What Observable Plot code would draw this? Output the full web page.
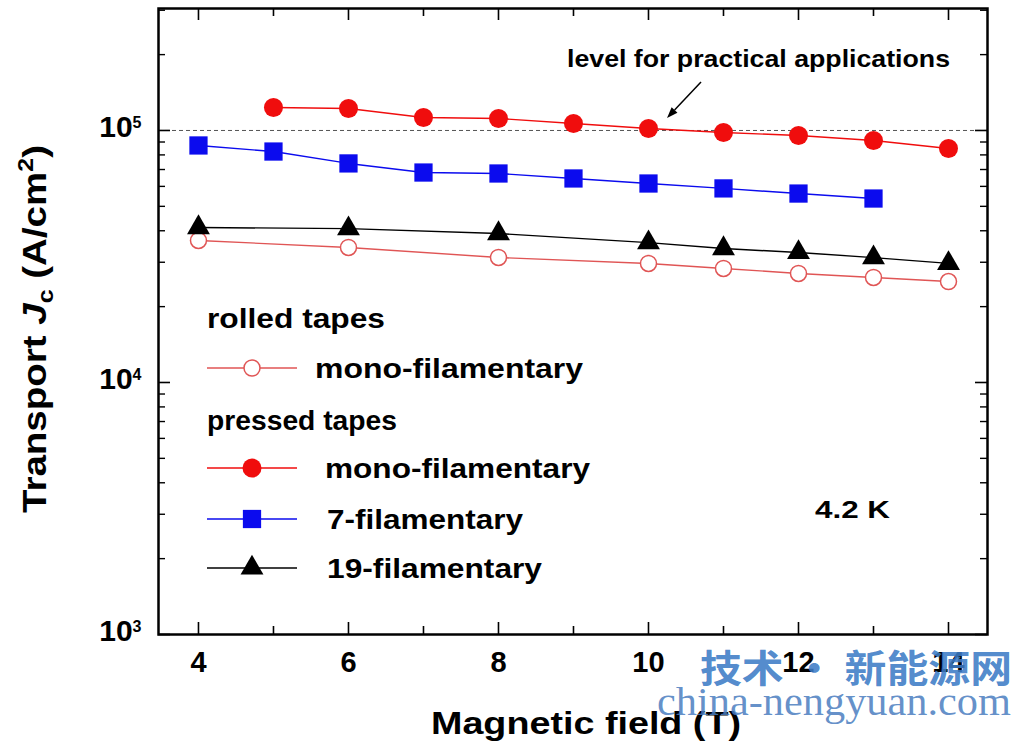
<!DOCTYPE html>
<html><head><meta charset="utf-8">
<script src="https://cdn.jsdelivr.net/npm/d3@7"></script>
<script src="https://cdn.jsdelivr.net/npm/@observablehq/plot@0.6"></script>
<style>body{margin:0;background:#fff;} svg{display:block}</style>
</head><body><div id="chart"></div>
<script>
// ---- data ----
const rolledMonoField = [4, 6, 8, 10, 11, 12, 13, 14];
const rolledMonoJc = [36600, 34330, 31340, 29670, 28350, 27070, 26100, 25160];
const pressedMonoField = [5, 6, 7, 8, 9, 10, 11, 12, 13, 14];
const pressedMonoJc = [123400, 122300, 112600, 111600, 106600, 101800, 98200, 95500, 91300, 84800];
const pressed7Field = [4, 5, 6, 7, 8, 9, 10, 11, 12, 13];
const pressed7Jc = [87200, 82500, 74000, 68100, 67500, 64500, 61600, 58900, 56200, 53700];
const pressed19Field = [4, 6, 8, 10, 11, 12, 13, 14];
const pressed19Jc = [41200, 40800, 39000, 35900, 34000, 32800, 31300, 29700];
const practicalLevel = [1e5];
const xTicks = [4, 6, 8, 10, 12, 14];
const xMinorTicks = [5, 7, 9, 11, 13];
const yDecades = [1e3, 1e4, 1e5];
const yMinorTicks = [2e3,3e3,4e3,5e3,6e3,7e3,8e3,9e3,2e4,3e4,4e4,5e4,6e4,7e4,8e4,9e4,2e5,3e5];
const legendGroups = ["rolled tapes", "pressed tapes"];
const legendLabels = ["mono-filamentary", "mono-filamentary", "7-filamentary", "19-filamentary"];
const annotationText = "level for practical applications";
const temperatureText = "4.2 K";
const xLabel = "Magnetic field (T)";
const watermarkCn = "技术 · 新能源网";
const watermarkEn = "china-nengyuan.com";

const rows = (xs, ys) => xs.map((x, i) => ({x, y: ys[i]}));
const rolled = rows(rolledMonoField, rolledMonoJc);
const pMono = rows(pressedMonoField, pressedMonoJc);
const p7 = rows(pressed7Field, pressed7Jc);
const p19 = rows(pressed19Field, pressed19Jc);

const W = 1014, H = 747, mL = 158, mR = 27, mT = 8, mB = 113;
const pw = W - mL - mR, ph = H - mT - mB;
const RED = "#f00d0d", BLUE = "#0b0bee", PINK = "#e05555";

const chart = Plot.plot({
  width: W, height: H,
  marginLeft: mL, marginRight: mR, marginTop: mT, marginBottom: mB,
  x: {domain: [3.467, 14.52]},
  y: {type: "log", domain: [1000, 304800]},
  style: {fontFamily: "'Liberation Sans', Arial, sans-serif", background: "white", color: "black", overflow: "visible"},
  marks: [
    Plot.ruleY(practicalLevel, {y: d => d, stroke: "#555", strokeDasharray: "4,3", strokeWidth: 1}),
    Plot.line(rolled, {x: "x", y: "y", stroke: PINK, strokeWidth: 1.4}),
    Plot.line(p19, {x: "x", y: "y", stroke: "black", strokeWidth: 1.4}),
    Plot.line(p7, {x: "x", y: "y", stroke: BLUE, strokeWidth: 1.4}),
    Plot.line(pMono, {x: "x", y: "y", stroke: RED, strokeWidth: 1.4}),
    Plot.dot(rolled, {x: "x", y: "y", r: 8, fill: "white", stroke: PINK, strokeWidth: 1.5}),
    Plot.dot(p19, {x: "x", y: "y", symbol: "triangle", r: 8.5, fill: "black"}),
    Plot.dot(p7, {x: "x", y: "y", symbol: "square", r: 10.3, fill: BLUE}),
    Plot.dot(pMono, {x: "x", y: "y", r: 9.5, fill: RED}),
    Plot.tickX(xTicks, {x: d => d, insetTop: ph - 12, strokeWidth: 1.6}),
    Plot.tickX(xTicks, {x: d => d, insetBottom: ph - 12, strokeWidth: 1.6}),
    Plot.tickX(xMinorTicks, {x: d => d, insetTop: ph - 8, strokeWidth: 1.6}),
    Plot.tickX(xMinorTicks, {x: d => d, insetBottom: ph - 8, strokeWidth: 1.6}),
    Plot.tickY(yDecades, {y: d => d, insetRight: pw - 12, strokeWidth: 1.6}),
    Plot.tickY(yDecades, {y: d => d, insetLeft: pw - 12, strokeWidth: 1.6}),
    Plot.tickY(yMinorTicks, {y: d => d, insetRight: pw - 7, strokeWidth: 1.4}),
    Plot.tickY(yMinorTicks, {y: d => d, insetLeft: pw - 7, strokeWidth: 1.4}),
    Plot.frame({stroke: "black", strokeWidth: 2.5}),
    Plot.axisX(xTicks, {anchor: "bottom", tickSize: 0, tickPadding: 17, fontSize: 29, fontWeight: "bold", label: null}),
    Plot.axisY(yDecades, {anchor: "left", tickSize: 0, tickPadding: 17, fontSize: 30, fontWeight: "bold", label: null, dy: -3,
      tickFormat: d => "10^" + Math.round(Math.log10(d))})
  ]
});
document.getElementById("chart").appendChild(chart);

const svg = d3.select(chart);
// superscript exponents in the y tick labels
svg.selectAll('[aria-label="y-axis tick label"] text').each(function () {
  const t = d3.select(this);
  const parts = t.text().split("^");
  if (parts.length === 2) {
    t.text(parts[0]);
    t.append("tspan").attr("dy", "-0.55em").attr("font-size", 16).text(parts[1]);
  }
});

const g = svg.append("g").attr("font-family", "'Liberation Sans', Arial, sans-serif")
  .attr("font-weight", "bold").attr("text-anchor", "start");

// y label
const yl = g.append("text")
  .attr("transform", "translate(46,329) rotate(-90)")
  .attr("text-anchor", "middle").attr("font-size", 34)
  .attr("textLength", 368).attr("lengthAdjust", "spacingAndGlyphs");
yl.append("tspan").text("Transport ");
yl.append("tspan").attr("font-style", "italic").text("J");
yl.append("tspan").attr("font-size", 22).attr("dy", 7).text("c");
yl.append("tspan").attr("dy", -7).text(" (A/cm");
yl.append("tspan").attr("font-size", 22).attr("dy", -13).text("2");
yl.append("tspan").attr("dy", 13).text(")");

// x label
g.append("text").attr("x", 586).attr("y", 734).attr("text-anchor", "middle")
  .attr("font-size", 31).attr("textLength", 310).attr("lengthAdjust", "spacingAndGlyphs").text(xLabel);

// annotation
g.append("text").attr("x", 567).attr("y", 67).attr("font-size", 24)
  .attr("font-family", "'Liberation Sans Narrow', 'Liberation Sans', sans-serif")
  .attr("textLength", 383).attr("lengthAdjust", "spacingAndGlyphs").text(annotationText);
{
  const x1 = 701, y1 = 82, x2 = 667, y2 = 118;
  const L = Math.hypot(x2 - x1, y2 - y1), ux = (x2 - x1) / L, uy = (y2 - y1) / L;
  const bx = x2 - 11 * ux, by = y2 - 11 * uy, nx = -uy, ny = ux;
  g.append("line").attr("x1", x1).attr("y1", y1).attr("x2", bx).attr("y2", by).attr("stroke", "black").attr("stroke-width", 1.5);
  g.append("path").attr("d", `M${x2},${y2}L${bx + 4 * nx},${by + 4 * ny}L${bx - 4 * nx},${by - 4 * ny}Z`).attr("fill", "black");
}

// temperature
g.append("text").attr("x", 815).attr("y", 518).attr("font-size", 24)
  .attr("textLength", 75).attr("lengthAdjust", "spacingAndGlyphs").text(temperatureText);

// legend
const legendFont = 27;
g.append("text").attr("x", 207).attr("y", 328).attr("font-size", legendFont)
  .attr("textLength", 178).attr("lengthAdjust", "spacingAndGlyphs").text(legendGroups[0]);
g.append("text").attr("x", 207).attr("y", 430).attr("font-size", legendFont)
  .attr("textLength", 190).attr("lengthAdjust", "spacingAndGlyphs").text(legendGroups[1]);
const entries = [
  {y: 368, tx: 315, len: 268, stroke: PINK, sym: d3.symbolCircle, r: 8, fill: "white", sw: 1.5},
  {y: 468, tx: 325, len: 265, stroke: RED, sym: d3.symbolCircle, r: 9.5, fill: RED, sw: 0},
  {y: 519, tx: 327, len: 196, stroke: BLUE, sym: d3.symbolSquare, r: 10.3, fill: BLUE, sw: 0},
  {y: 568, tx: 327, len: 215, stroke: "black", sym: d3.symbolTriangle, r: 8.5, fill: "black", sw: 0}
];
entries.forEach((e, i) => {
  g.append("line").attr("x1", 207).attr("x2", 297).attr("y1", e.y).attr("y2", e.y)
    .attr("stroke", e.stroke).attr("stroke-width", 1.4);
  g.append("path").attr("transform", `translate(252,${e.y})`)
    .attr("d", d3.symbol(e.sym, Math.PI * e.r * e.r)())
    .attr("fill", e.fill).attr("stroke", e.sw ? e.stroke : "none").attr("stroke-width", e.sw);
  g.append("text").attr("x", e.tx).attr("y", e.y + 10).attr("font-size", legendFont)
    .attr("textLength", e.len).attr("lengthAdjust", "spacingAndGlyphs").text(legendLabels[i]);
});

// watermark
g.append("text").attr("x", 700).attr("y", 682).attr("font-size", 38)
  .attr("font-family", "'Noto Sans CJK SC', sans-serif").attr("fill", "#3d7cc6").attr("fill-opacity", 0.9)
  .attr("textLength", 312).attr("lengthAdjust", "spacingAndGlyphs").text(watermarkCn);
g.append("text").attr("x", 657).attr("y", 715).attr("font-size", 40).attr("font-weight", "normal")
  .attr("font-family", "'Liberation Serif', serif").attr("fill", "#4a7dbf").attr("fill-opacity", 0.85)
  .attr("textLength", 354).attr("lengthAdjust", "spacingAndGlyphs").text(watermarkEn);
</script>
</body></html>
